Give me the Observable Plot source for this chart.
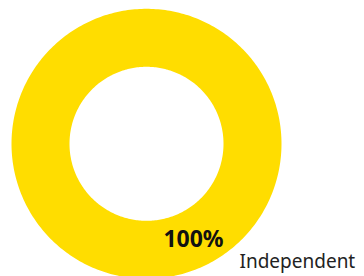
<!DOCTYPE html>
<html>
<head>
<meta charset="utf-8">
<script src="https://cdn.jsdelivr.net/npm/d3@7"></script>
<script src="https://cdn.jsdelivr.net/npm/@observablehq/plot@0.6"></script>
<style>
  html, body { margin: 0; padding: 0; background: #fff; }
  #chart { width: 364px; height: 276px; overflow: hidden; }
  svg { display: block; }
</style>
</head>
<body>
<div id="chart"></div>
<script>
// ---- data ----
const categories = ["Independent"];
const values = [100];
const valueLabels = ["100%"];
const colors = ["#FFDD00"];

// ---- layout (in units of outer radius, y pointing down) ----
const innerRatio = 77 / 135;
const width = 364, height = 276;
const k = 135;               // px per unit
const cx = 146, cy = 143.3;  // donut centre in px

// domain box so that the identity projection fits the frame with the wanted scale/centre
const dx = width / k, dy = height / k;
const bx = (width / 2 - cx) / k, by = (height / 2 - cy) / k;
const domain = {
  type: "Polygon",
  coordinates: [[
    [bx - dx / 2, by - dy / 2], [bx + dx / 2, by - dy / 2],
    [bx + dx / 2, by + dy / 2], [bx - dx / 2, by + dy / 2],
    [bx - dx / 2, by - dy / 2]
  ]]
};

// ---- slices ----
const pie = d3.pie().sort(null).value(d => d.value)(
  categories.map((c, i) => ({category: c, value: values[i], label: valueLabels[i], color: colors[i]}))
);
function arcRing(a0, a1, r, n) {
  const pts = [];
  for (let j = 0; j <= n; j++) {
    const a = a0 + (a1 - a0) * j / n;
    pts.push([r * Math.sin(a), -r * Math.cos(a)]);
  }
  return pts;
}
const slices = pie.map(p => {
  const n = Math.max(8, Math.ceil((p.endAngle - p.startAngle) / (Math.PI / 180)));
  const full = p.endAngle - p.startAngle >= 2 * Math.PI - 1e-9;
  let coordinates;
  if (full) {
    const outer = arcRing(p.startAngle, p.endAngle, 1, n);
    const inner = arcRing(p.endAngle, p.startAngle, innerRatio, n);
    coordinates = [outer, inner];
  } else {
    const ring = arcRing(p.startAngle, p.endAngle, 1, n)
      .concat(arcRing(p.endAngle, p.startAngle, innerRatio, n));
    ring.push(ring[0]);
    coordinates = [ring];
  }
  return {type: "Feature", properties: p.data, geometry: {type: "Polygon", coordinates}};
});

// label positions (units of outer radius)
const valueLabelPos = [{x: (193 - cx) / k, y: (238.8 - cy) / k}];
const nameLabelPos = [{x: (239 - cx) / k, y: (261.8 - cy) / k}];

const chart = Plot.plot({
  width, height,
  margin: 0,
  style: {fontFamily: "'Noto Sans', sans-serif", background: "#fff"},
  projection: {type: "identity", domain},
  marks: [
    Plot.geo(slices, {fill: d => d.properties.color, stroke: "none"}),
    Plot.text(pie, {
      x: (d, i) => valueLabelPos[i].x, y: (d, i) => valueLabelPos[i].y,
      text: d => d.data.label, fontSize: 23, fontWeight: "bold", fill: "#111",
      textAnchor: "middle", lineAnchor: "middle"
    }),
    Plot.text(pie, {
      x: (d, i) => nameLabelPos[i].x, y: (d, i) => nameLabelPos[i].y,
      text: d => d.data.category, fontSize: 19, fill: "#222",
      textAnchor: "start", lineAnchor: "middle"
    })
  ]
});
document.getElementById("chart").appendChild(chart);
</script>
</body>
</html>
